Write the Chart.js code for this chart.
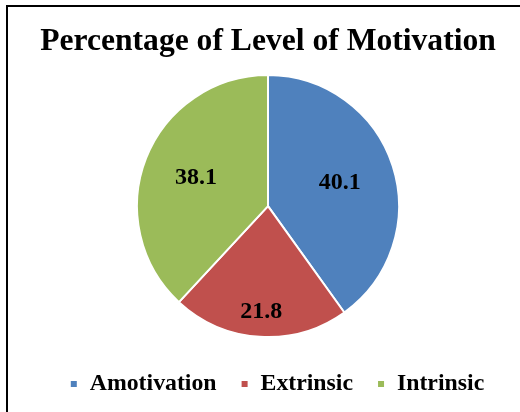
<!DOCTYPE html>
<html>
<head>
<meta charset="utf-8">
<script src="https://cdn.jsdelivr.net/npm/chart.js@4/dist/chart.umd.min.js"></script>
<style>
  html, body { margin: 0; padding: 0; background: #fff; }
  #wrap { position: relative; width: 520px; height: 412px; }
</style>
</head>
<body>
<div id="wrap"><canvas id="c" width="520" height="412"></canvas></div>
<script>
const categories = ["Amotivation", "Extrinsic", "Intrinsic"];
const values = [40.1, 21.8, 38.1];
const valueLabels = ["40.1", "21.8", "38.1"];
const titleText = "Percentage of Level of Motivation";

const SERIF = '"Liberation Serif", "Times New Roman", "DejaVu Serif", serif';

const framePlugin = {
  id: 'frame',
  beforeDraw(chart) {
    const ctx = chart.ctx;
    ctx.save();
    ctx.fillStyle = '#fff';
    ctx.fillRect(0, 0, chart.width, chart.height);
    ctx.fillStyle = '#000';
    ctx.fillRect(6, 5, 2, chart.height - 5);
    ctx.fillRect(6, 5, chart.width - 6, 2);
    ctx.restore();
  }
};

const legendShift = {
  id: 'legendShift',
  afterLayout(chart, args, opts) {
    if (chart.legend) {
      chart.legend.left += opts.dx;
      chart.legend.right += opts.dx;
    }
  }
};

const sliceLabels = {
  id: 'sliceLabels',
  afterDatasetsDraw(chart, args, opts) {
    const ctx = chart.ctx;
    const meta = chart.getDatasetMeta(0);
    ctx.save();
    ctx.font = 'bold 24px ' + SERIF;
    ctx.fillStyle = '#000';
    ctx.textAlign = 'center';
    ctx.textBaseline = 'middle';
    meta.data.forEach((arc, i) => {
      const p = arc.getProps(['x', 'y', 'startAngle', 'endAngle', 'outerRadius'], true);
      const mid = (p.startAngle + p.endAngle) / 2;
      const r = p.outerRadius * opts.fractions[i];
      ctx.fillText(valueLabels[i], p.x + Math.cos(mid) * r, p.y + Math.sin(mid) * r);
    });
    ctx.restore();
  }
};

new Chart(document.getElementById('c'), {
  type: 'pie',
  data: {
    labels: categories,
    datasets: [{
      data: values,
      backgroundColor: ['#4F81BD', '#C0504D', '#9BBB59'],
      borderColor: '#ffffff',
      borderWidth: 2,
      radius: 131
    }]
  },
  options: {
    responsive: false,
    animation: false,
    layout: { padding: { left: 16, right: 0, top: 0, bottom: 6 } },
    plugins: {
      title: {
        display: true,
        text: titleText,
        color: '#000',
        font: { family: SERIF, size: 31.6, weight: 'bold', lineHeight: 1.2 },
        padding: { top: 23, bottom: 3 }
      },
      legend: {
        position: 'bottom',
        labels: {
          color: '#000',
          font: { family: SERIF, size: 23.8, weight: 'bold' },
          boxWidth: 8,
          boxHeight: 8,
          padding: 24
        }
      },
      tooltip: { enabled: false },
      legendShift: { dx: 9 },
      sliceLabels: { fractions: [0.576, 0.81, 0.59] }
    }
  },
  plugins: [framePlugin, legendShift, sliceLabels]
});
</script>
</body>
</html>
